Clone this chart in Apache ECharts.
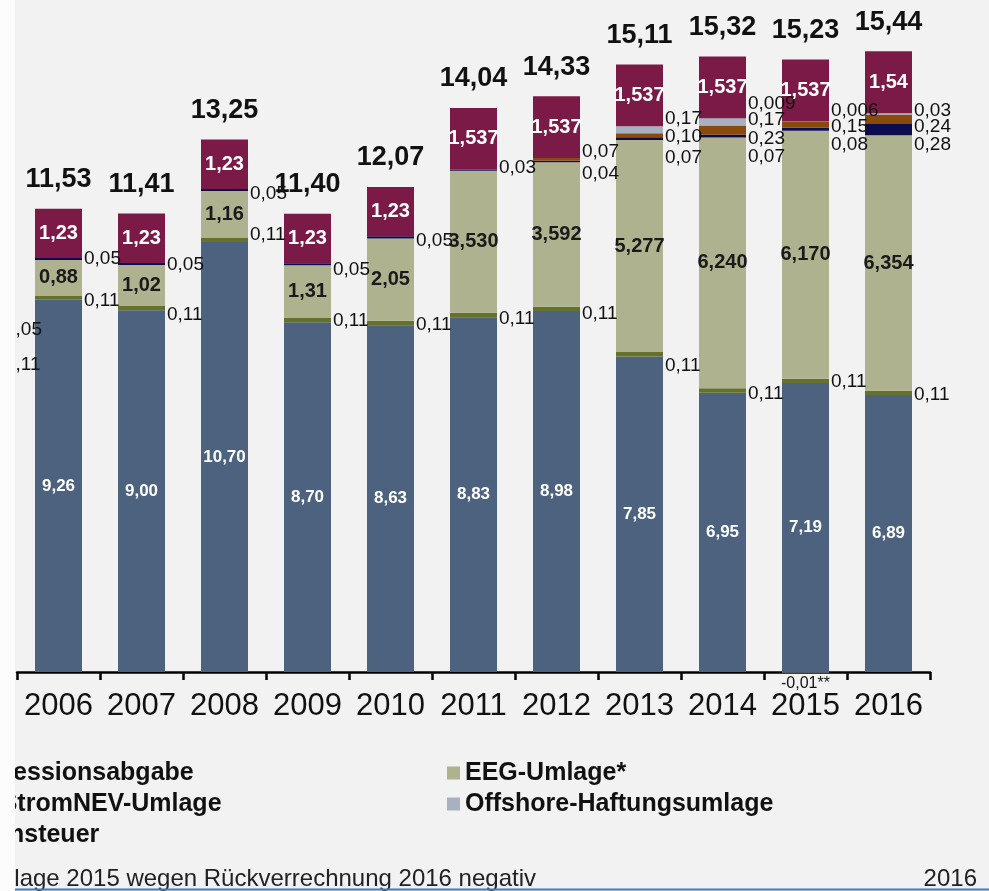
<!DOCTYPE html>
<html>
<head>
<meta charset="utf-8">
<script src="https://cdn.jsdelivr.net/npm/echarts@6/dist/echarts.min.js"></script>
<style>
  html, body { margin: 0; padding: 0; background: #f2f2f2; }
  #chart { width: 989px; height: 891px; }
</style>
</head>
<body>
<div id="chart"></div>
<script>
// ---- Data (ct/kWh) ----
const years = ['2006','2007','2008','2009','2010','2011','2012','2013','2014','2015','2016'];
const beschaffung = ['9.26','9.00','10.70','8.70','8.63','8.83','8.98','7.85','6.95','7.19','6.89'];
const konzession = ['0.11','0.11','0.11','0.11','0.11','0.11','0.11','0.11','0.11','0.11','0.11'];
const eeg = ['0.88','1.02','1.16','1.31','2.05','3.530','3.592','5.277','6.240','6.170','6.354'];
const kwk = ['0.05','0.05','0.05','0.05','0.05','0.03','0.04','0.07','0.07','0.08','0.28'];
const stromnev = [null,null,null,null,null,null,'0.07','0.10','0.23','0.15','0.24'];
const offshore = [null,null,null,null,null,null,null,'0.17','0.17','-0.01','0.03'];
const abla = [null,null,null,null,null,null,null,null,'0.009','0.006',null];
const stromsteuer = ['1.23','1.23','1.23','1.23','1.23','1.537','1.537','1.537','1.537','1.537','1.54'];
const totals = ['11.53','11.41','13.25','11.40','12.07','14.04','14.33','15.11','15.32','15.23','15.44'];

// label vertical nudges (px) for the side labels, to keep them readable
const konzDy = [3,7,-5,1,2,4,5,11,3,1,2];
const kwkDy = [0,1,4,5,3,-2,12,19,21,16,15];
const nevDy = [0,0,0,0,0,0,-8,2,9,2,8];
const offDy = [0,0,0,0,0,0,0,-11,-2,0,-3];
const ablaDy = [0,0,0,0,0,0,0,0,-15,-11,0];

const FONT = "'Liberation Sans', Arial, sans-serif";
const comma = s => (s == null ? '' : String(s).replace('.', ','));

function sideData(arr, dy) {
  return arr.map((v, i) => v == null ? null : ({
    value: Number(v),
    label: { offset: [0, dy[i]] }
  }));
}
const sideLabel = (arr) => ({
  show: true, position: 'right', distance: 2,
  fontFamily: FONT, fontSize: 19, color: '#111',
  formatter: p => comma(arr[p.dataIndex])
});

const chart = echarts.init(document.getElementById('chart'), null, { renderer: 'canvas' });

const offData = offshore.map((v, i) => {
  if (v == null) return null;
  const n = Number(v);
  if (n < 0) {
    return { value: n, label: { position: 'bottom', distance: 3, fontSize: 16, offset: [0, 0],
      formatter: p => comma(offshore[p.dataIndex]) + '**' } };
  }
  return { value: n, label: { offset: [0, offDy[i]] } };
});

const legendText = { fontFamily: FONT, fontSize: 25, fontWeight: 'bold', color: '#111', lineHeight: 26 };

const option = {
  backgroundColor: '#f2f2f2',
  animation: false,
  textStyle: { fontFamily: FONT },
  grid: { left: 17, right: 59, top: 29, bottom: 219, containLabel: false },
  xAxis: {
    type: 'category',
    data: years,
    axisLine: { lineStyle: { color: '#000', width: 2.5 } },
    axisTick: { show: true, length: 8, lineStyle: { color: '#000', width: 2.5 } },
    axisLabel: { interval: 0, fontFamily: FONT, fontSize: 31, color: '#111', margin: 19 }
  },
  yAxis: { type: 'value', min: 0, max: 16, show: false, splitLine: { show: false } },
  legend: [
    {
      data: ['Konzessionsabgabe', '§19 StromNEV-Umlage', 'Stromsteuer'],
      orient: 'vertical', left: -66, top: 760, padding: 0, icon: 'rect',
      itemWidth: 13, itemHeight: 13, itemGap: 5, selectedMode: false,
      textStyle: legendText
    },
    {
      data: ['EEG-Umlage*', 'Offshore-Haftungsumlage'],
      orient: 'vertical', left: 447, top: 760, padding: 0, icon: 'rect',
      itemWidth: 13, itemHeight: 13, itemGap: 5, selectedMode: false,
      textStyle: legendText
    }
  ],
  series: [
    {
      name: 'Strombeschaffung, Netzentgelt, Vertrieb', type: 'bar', stack: 's', barWidth: 47,
      itemStyle: { color: '#4d627e' },
      data: beschaffung.map(Number),
      label: { show: true, position: 'inside', fontFamily: FONT, fontSize: 17, fontWeight: 'bold', color: '#fff',
        formatter: p => comma(beschaffung[p.dataIndex]) }
    },
    {
      name: 'Konzessionsabgabe', type: 'bar', stack: 's',
      itemStyle: { color: '#66722b' },
      data: sideData(konzession, konzDy),
      label: sideLabel(konzession)
    },
    {
      name: 'EEG-Umlage*', type: 'bar', stack: 's',
      itemStyle: { color: '#afb28e' },
      data: eeg.map(Number),
      label: { show: true, position: 'inside', fontFamily: FONT, fontSize: 20, fontWeight: 'bold', color: '#1a1a1a',
        formatter: p => comma(eeg[p.dataIndex]) }
    },
    {
      name: 'KWK-Umlage', type: 'bar', stack: 's',
      itemStyle: { color: '#0b0b4f' },
      data: sideData(kwk, kwkDy),
      label: sideLabel(kwk)
    },
    {
      name: '§19 StromNEV-Umlage', type: 'bar', stack: 's',
      itemStyle: { color: '#8a4a0c' },
      data: sideData(stromnev, nevDy),
      label: sideLabel(stromnev)
    },
    {
      name: 'Offshore-Haftungsumlage', type: 'bar', stack: 's', clip: false,
      itemStyle: { color: '#a7b1bf' },
      data: offData,
      label: sideLabel(offshore)
    },
    {
      name: 'AbLa-Umlage', type: 'bar', stack: 's',
      itemStyle: { color: '#5a6f8c' },
      data: sideData(abla, ablaDy),
      label: sideLabel(abla)
    },
    {
      name: 'Stromsteuer', type: 'bar', stack: 's',
      itemStyle: { color: '#7b1a46' },
      data: stromsteuer.map(Number),
      label: { show: true, position: 'inside', fontFamily: FONT, fontSize: 20, fontWeight: 'bold', color: '#fff',
        formatter: p => comma(stromsteuer[p.dataIndex]) }
    },
    {
      name: 'Summe', type: 'bar', stack: 's',
      itemStyle: { color: 'transparent' },
      data: totals.map(() => 0),
      label: { show: true, position: 'top', distance: 16, fontFamily: FONT, fontSize: 27, fontWeight: 'bold',
        color: '#111', lineHeight: 26, formatter: p => comma(totals[p.dataIndex]) }
    }
  ],
  graphic: [
    // labels of the preceding (cropped) column
    { type: 'text', left: 5, top: 320, z: 50, style: { text: '0,05', font: "19px 'Liberation Sans', Arial", fill: '#111' } },
    { type: 'text', left: 5, top: 355, z: 50, style: { text: '0,11', font: "19px 'Liberation Sans', Arial", fill: '#111' } },
    // footnote
    { type: 'text', right: 453, top: 867, z: 50,
      style: { text: '** Offshore-Haftungsumlage 2015 wegen Rückverrechnung 2016 negativ', font: "24px 'Liberation Sans', Arial", fill: '#222' } },
    { type: 'text', right: 12, top: 867, z: 50,
      style: { text: '2016', font: "24px 'Liberation Sans', Arial", fill: '#222' } },
    { type: 'line', z: 60, shape: { x1: 15, y1: 889.5, x2: 989, y2: 889.5 }, style: { stroke: '#3b7fc1', lineWidth: 2 } },
    // cropped left margin
    { type: 'rect', z: 100, shape: { x: 0, y: 0, width: 15, height: 891 }, style: { fill: '#fcfcfc' } }
  ]
};
chart.setOption(option);
</script>
</body>
</html>
